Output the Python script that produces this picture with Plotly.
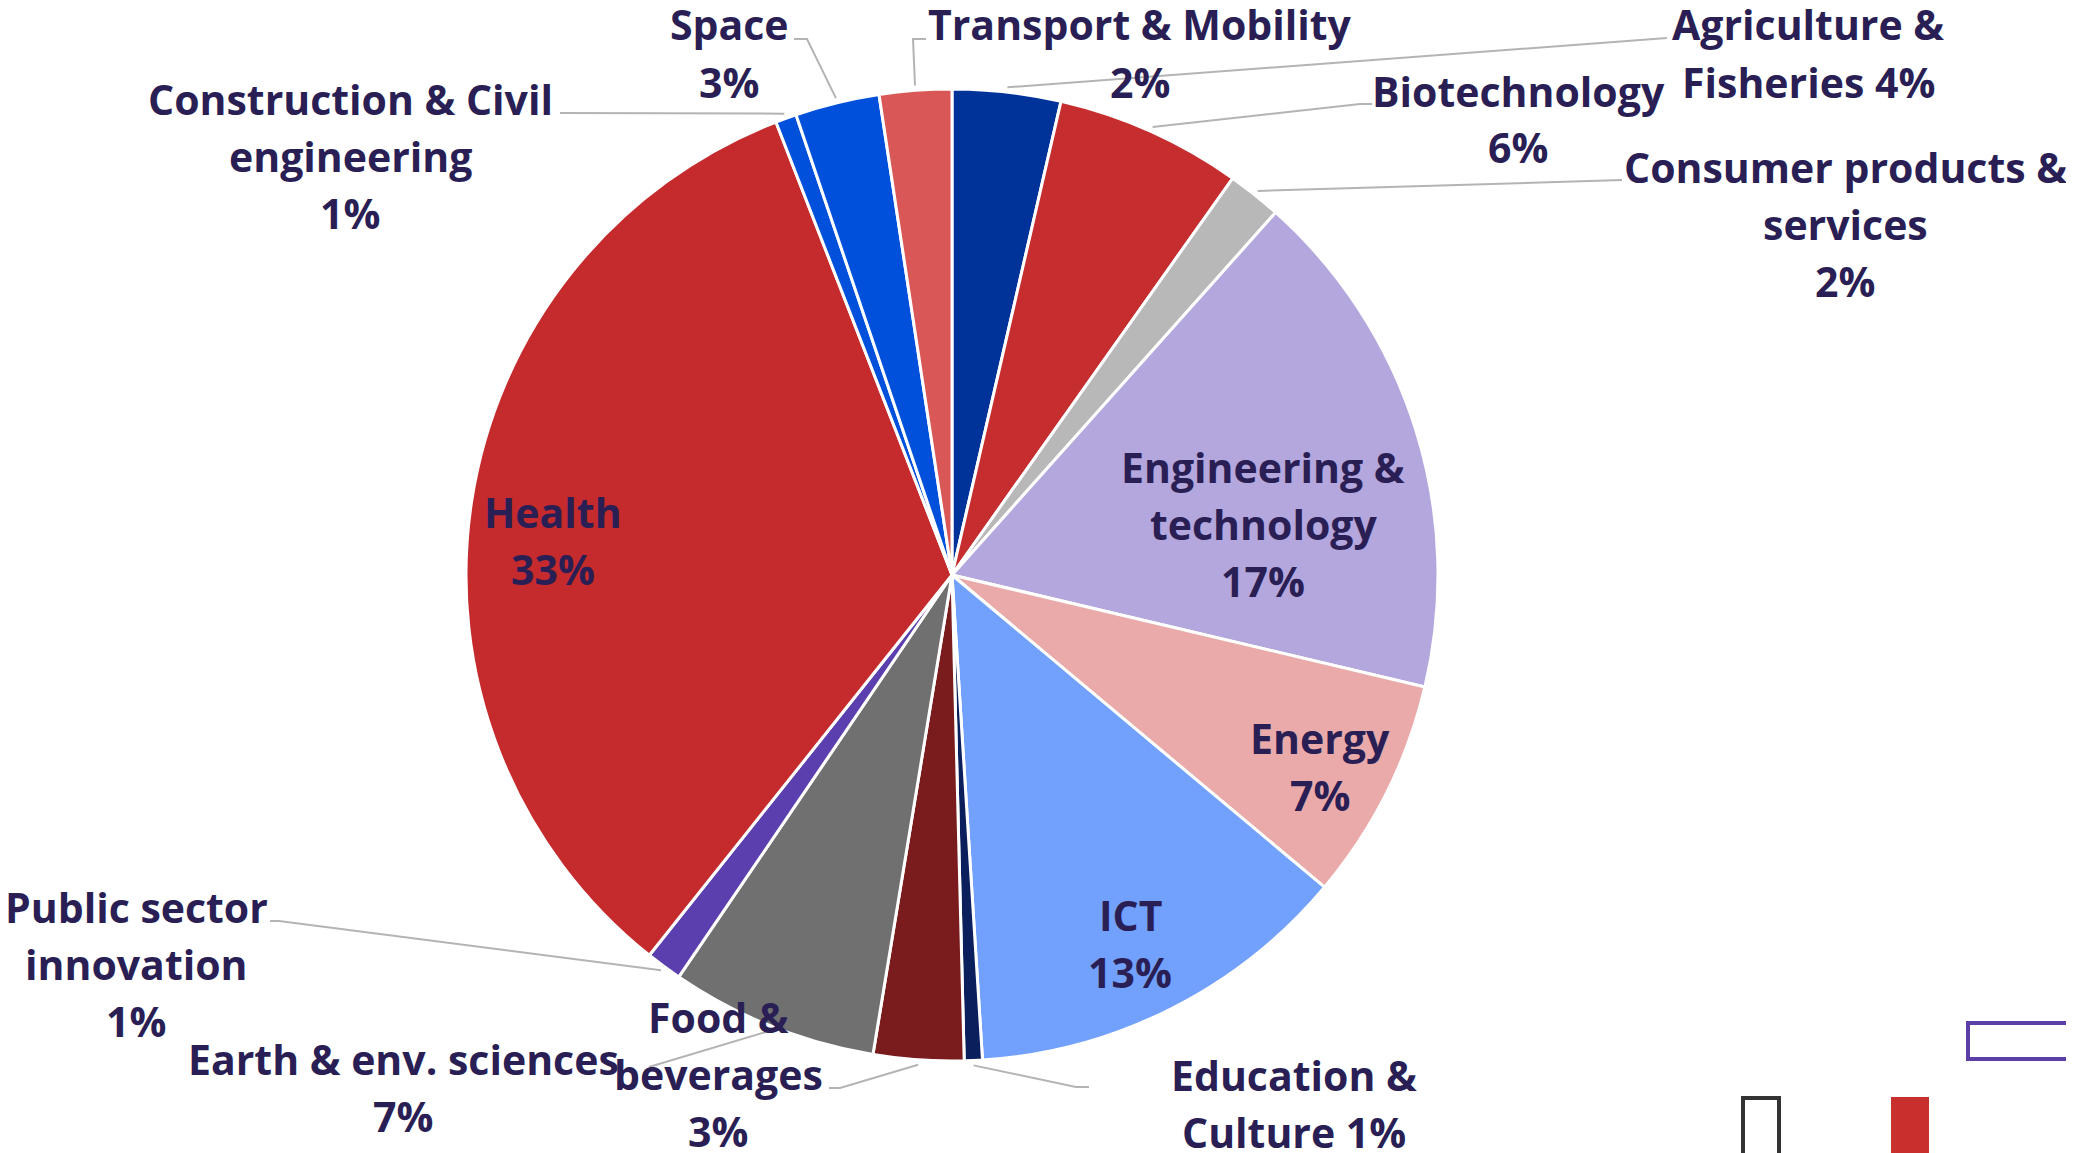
import math

import plotly.graph_objects as go

W, H = 2074, 1153
OFF = 8  # the page body adds an 8px margin around the figure

categories = [
    "Agriculture & Fisheries",
    "Biotechnology",
    "Consumer products & services",
    "Engineering & technology",
    "Energy",
    "ICT",
    "Education & Culture",
    "Food & beverages",
    "Earth & env. sciences",
    "Public sector innovation",
    "Health",
    "Construction & Civil engineering",
    "Space",
    "Transport & Mobility",
]
shares = [3.6, 6.2, 1.8, 17.1, 7.4, 12.9, 0.6, 3.0, 6.9, 1.2, 33.4, 0.7, 2.8, 2.4]
colors = [
    "#003399", "#c62d2e", "#b8b8b8", "#b4a7de", "#ebaaaa", "#72a0fd", "#0b1f5c",
    "#7a1c1d", "#707070", "#5b3fae", "#c52a2c", "#0050dc", "#0050dc", "#d95857",
]

TEXT = "#2a1f55"
LINE = "#b4b4b4"
FONT_SIZE = 41
LINE_GAP = 57

# pie geometry in pixels
CX, CY, R = 952, 575, 486

# label lines, label centre in px, leader line points in px
label_layout = {
    "Agriculture & Fisheries": (["Agriculture &", "Fisheries {p}%"], (1808, 53), [(1667, 38)]),
    "Biotechnology": (["Biotechnology", "{p}%"], (1518, 119), [(1360, 104), (1372, 104)]),
    "Consumer products & services": (["Consumer products &", "services", "{p}%"], (1845, 224), [(1622, 180)]),
    "Engineering & technology": (["Engineering &", "technology", "{p}%"], (1263, 524), None),
    "Energy": (["Energy", "{p}%"], (1320, 766), None),
    "ICT": (["ICT", "{p}%"], (1130, 943), None),
    "Education & Culture": (["Education &", "Culture {p}%"], (1294, 1103), [(1076, 1087), (1089, 1087)]),
    "Food & beverages": (["Food &", "beverages", "{p}%"], (718, 1074), [(840, 1088), (829, 1088)]),
    "Earth & env. sciences": (["Earth & env. sciences", "{p}%"], (403, 1087), [(649, 1067)]),
    "Public sector innovation": (["Public sector", "innovation", "{p}%"], (136, 964), [(279, 921), (270, 921)]),
    "Health": (["Health", "{p}%"], (553, 540), None),
    "Construction & Civil engineering": (["Construction & Civil", "engineering", "{p}%"], (350, 156), [(560, 113)]),
    "Space": (["Space", "{p}%"], (729, 53), [(807, 39), (794, 39)]),
    "Transport & Mobility": (["Transport & Mobility", "{p}%"], (1140, 53), [(913, 39), (926, 39)]),
}


def px_x(x):
    return (x - OFF) / W


def px_y(y):
    return 1 - (y - OFF) / H


fig = go.Figure(
    go.Pie(
        labels=categories,
        values=shares,
        sort=False,
        direction="clockwise",
        rotation=0,
        textinfo="none",
        hoverinfo="label+percent",
        marker=dict(colors=colors, line=dict(color="white", width=3)),
        domain=dict(x=[px_x(CX - R), px_x(CX + R)], y=[px_y(CY + R), px_y(CY - R)]),
    )
)

total = sum(shares)
cum = 0.0
shapes = []
annotations = []
for name, val in zip(categories, shares):
    mid = (cum + val / 2) / total * 2 * math.pi
    cum += val
    lines, (lx, ly), pts = label_layout[name]
    n = len(lines)
    for i, line in enumerate(lines):
        y = ly + (i - (n - 1) / 2) * LINE_GAP
        annotations.append(
            dict(
                x=px_x(lx), y=px_y(y), xref="paper", yref="paper",
                text=line.format(p=round(val)), showarrow=False,
                xanchor="center", yanchor="middle", align="center",
                font=dict(family="Open Sans", size=FONT_SIZE, color=TEXT, weight="bold"),
            )
        )
    if pts:
        sx = CX + R * 1.01 * math.sin(mid)
        sy = CY - R * 1.01 * math.cos(mid)
        path = f"M {px_x(sx)} {px_y(sy)}" + "".join(f" L {px_x(x)} {px_y(y)}" for x, y in pts)
        shapes.append(dict(type="path", xref="paper", yref="paper", path=path,
                           line=dict(color=LINE, width=2)))

# cropped legend remnants at the bottom right
shapes += [
    dict(type="rect", xref="paper", yref="paper", x0=px_x(1968), x1=px_x(2090),
         y0=px_y(1059), y1=px_y(1023), line=dict(color="#5b3fa6", width=4), fillcolor="white"),
    dict(type="rect", xref="paper", yref="paper", x0=px_x(1743), x1=px_x(1779),
         y0=px_y(1175), y1=px_y(1098), line=dict(color="#333333", width=4), fillcolor="white"),
    dict(type="rect", xref="paper", yref="paper", x0=px_x(1891), x1=px_x(1929),
         y0=px_y(1175), y1=px_y(1097), line=dict(width=0), fillcolor="#c8302e"),
]

fig.update_layout(
    width=W,
    height=H,
    margin=dict(l=0, r=0, t=0, b=0),
    paper_bgcolor="white",
    plot_bgcolor="white",
    showlegend=False,
    shapes=shapes,
    annotations=annotations,
)

fig.write_html("out.html")
